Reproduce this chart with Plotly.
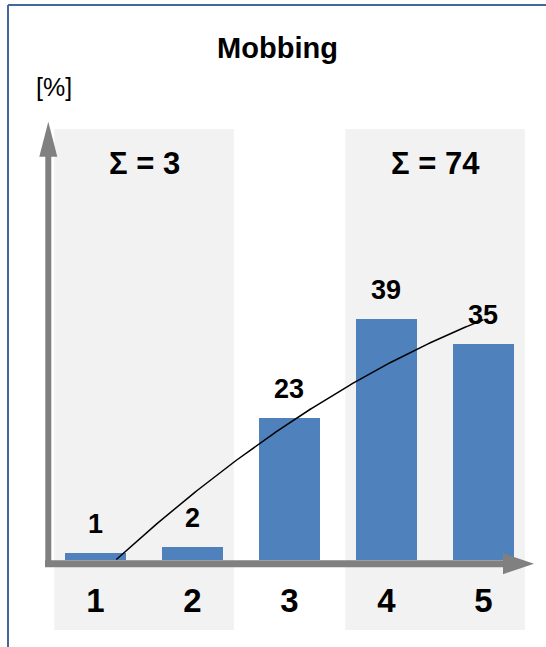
import numpy as np
import plotly.graph_objects as go

# ---- data -------------------------------------------------------------
categories = [1, 2, 3, 4, 5]
tick_labels = ["1", "2", "3", "4", "5"]
shares = [1, 2, 23, 39, 35]            # percent of answers per category
group_labels = ["Σ = 3", "Σ = 74"]     # sums of the two highlighted groups
group_members = [[1, 2], [4, 5]]
title_text = "Mobbing"
unit_text = "[%]"

# ---- styles -----------------------------------------------------------
NARROW = "Liberation Sans Narrow, Arial Narrow, Liberation Sans, sans-serif"
REGULAR = "Liberation Sans, Arial, sans-serif"
BAR_BLUE = "#4F81BD"
AXIS_GREY = "#808080"
BAND_GREY = "#F2F2F2"
FRAME_BLUE = "#46679A"

W, H = 546, 647
ML, MR, MT, MB = 20, 6, 97, 8
X_RANGE = [0.2227, 5.5835]
Y_RANGE = [-12.885, 74.96]

# 2nd order polynomial trendline through the bar values, drawn from the
# point where it rises above zero up to the last category
coef = np.polyfit(categories, shares, 2)
roots = [r.real for r in np.roots(coef) if abs(r.imag) < 1e-9]
x_start = max([r for r in roots if categories[0] <= r <= categories[-1]],
              default=categories[0])
trend_x = np.linspace(x_start, categories[-1], 160)
trend_y = np.polyval(coef, trend_x)

fig = go.Figure()

fig.add_trace(go.Bar(
    x=categories, y=shares, width=0.623,
    marker=dict(color=BAR_BLUE, line=dict(width=0)),
    hoverinfo="skip", showlegend=False,
))
fig.add_trace(go.Scatter(
    x=trend_x, y=trend_y, mode="lines",
    line=dict(color="black", width=1.5),
    hoverinfo="skip", showlegend=False,
))

shapes = []
# grey bands behind the two highlighted groups
for members in group_members:
    shapes.append(dict(
        type="rect", xref="x", yref="y", layer="below",
        x0=members[0] - 0.424, x1=members[-1] + 0.428,
        y0=-11.43, y1=69.77,
        fillcolor=BAND_GREY, line=dict(width=0),
    ))

# vertical axis arrow
shapes.append(dict(type="line", xref="x", yref="y", layer="above",
                   x0=0.5144, x1=0.5144, y0=-1.22, y1=66.0,
                   line=dict(color=AXIS_GREY, width=6)))
shapes.append(dict(type="path", xref="x", yref="y", layer="above",
                   path="M 0.4216 65.28 L 0.5144 70.96 L 0.6072 65.28 Z",
                   fillcolor=AXIS_GREY, line=dict(width=0)))
# horizontal axis arrow
shapes.append(dict(type="line", xref="x", yref="y", layer="above",
                   x0=0.4804, x1=5.222, y0=-0.68, y1=-0.68,
                   line=dict(color=AXIS_GREY, width=7)))
shapes.append(dict(type="path", xref="x", yref="y", layer="above",
                   path="M 5.202 1.02 L 5.522 -0.68 L 5.202 -2.38 Z",
                   fillcolor=AXIS_GREY, line=dict(width=0)))

# frame lines (top and left)
fx = (8 - ML) / (W - ML - MR)
fy = (H - MB - 5) / (H - MT - MB)
shapes.append(dict(type="line", xref="paper", yref="paper", layer="above",
                   x0=fx, x1=1.1, y0=fy, y1=fy,
                   line=dict(color=FRAME_BLUE, width=2)))
shapes.append(dict(type="line", xref="paper", yref="paper", layer="above",
                   x0=fx, x1=fx, y0=-0.05, y1=fy,
                   line=dict(color=FRAME_BLUE, width=2)))

annotations = []
# value labels above the bars
for c, v in zip(categories, shares):
    annotations.append(dict(
        x=c, y=v, xref="x", yref="y", text=str(v), showarrow=False,
        xanchor="center", yanchor="bottom", yshift=12,
        font=dict(family=NARROW, size=27, color="black", weight="bold"),
    ))
# group sums inside the grey bands
for members, label in zip(group_members, group_labels):
    annotations.append(dict(
        x=(members[0] - 0.424 + members[-1] + 0.428) / 2, y=64.18,
        xref="x", yref="y", text=label, showarrow=False,
        xanchor="center", yanchor="middle",
        font=dict(family=NARROW, size=31, color="black", weight="bold"),
    ))
# unit label
annotations.append(dict(
    x=(54 - ML) / (W - ML - MR), y=(H - MB - 87) / (H - MT - MB),
    xref="paper", yref="paper", text=unit_text, showarrow=False,
    xanchor="center", yanchor="middle",
    font=dict(family=REGULAR, size=25, color="black"),
))

fig.update_layout(
    width=W, height=H,
    margin=dict(l=ML, r=MR, t=MT, b=MB),
    paper_bgcolor="white", plot_bgcolor="white",
    title=dict(
        text=title_text, xref="container", yref="container",
        x=277.5 / W, xanchor="center", y=1 - 48 / H, yanchor="middle",
        font=dict(family=REGULAR, size=29, color="black", weight="bold"),
    ),
    shapes=shapes, annotations=annotations,
    bargap=0, showlegend=False,
)
fig.update_xaxes(
    range=X_RANGE, tickvals=categories, ticktext=tick_labels,
    showgrid=False, zeroline=False, showline=False, ticks="",
    anchor="free", position=(H - MB - 567) / (H - MT - MB),
    ticklabelstandoff=11,
    tickfont=dict(family=NARROW, size=33, color="black", weight="bold"),
    fixedrange=True,
)
fig.update_yaxes(range=Y_RANGE, visible=False, fixedrange=True)

fig.write_html("out.html")
